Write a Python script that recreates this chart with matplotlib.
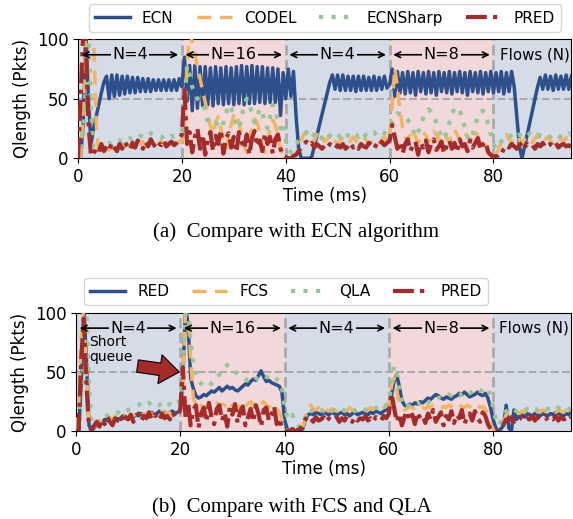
import numpy as np
import matplotlib
matplotlib.use('Agg')
import matplotlib.pyplot as plt

# time axis, one sample every 0.5 ms
t = np.arange(0, 95.25, 0.5)

# ---- (a) ECN comparison ----
ecn = [0, 0, 30, 110, 50, 12, 25, 35, 45, 55, 64, 69, 50, 70, 52, 70, 53, 69, 54, 69,
       55, 68, 55, 68, 56, 67, 56, 67, 56, 66, 57, 66, 57, 66, 57, 66, 57, 66, 57, 67,
       60, 85, 48, 78, 40, 78, 42, 77, 44, 77, 45, 76, 44, 77, 46, 76, 45, 77, 46, 76,
       45, 77, 46, 78, 45, 77, 46, 78, 46, 77, 47, 77, 46, 76, 47, 76, 47, 75, 36, 72,
       50, 75, 52, 73, 35, 8, 0, 0, 0, 0, 1, 10, 19, 28, 37, 46, 55, 64, 70, 58,
       70, 57, 70, 57, 69, 57, 69, 56, 69, 57, 69, 57, 68, 57, 69, 57, 68, 58, 69, 59,
       62, 75, 52, 73, 55, 72, 54, 73, 55, 72, 53, 73, 56, 72, 54, 73, 55, 72, 53, 73,
       56, 72, 55, 73, 54, 72, 56, 73, 55, 72, 53, 73, 56, 72, 55, 73, 54, 72, 56, 73,
       55, 72, 56, 73, 54, 72, 56, 73, 60, 35, 10, 0, 10, 20, 30, 40, 50, 60, 68, 58,
       70, 58, 69, 57, 70, 58, 69, 58, 70, 58, 69]
codel = [0, 0, 40, 105, 110, 110, 105, 30, 3, 5, 6, 8, 7, 9, 8, 10, 9, 11, 10, 12,
         11, 12, 10, 13, 12, 14, 11, 13, 12, 14, 13, 12, 14, 13, 12, 14, 13, 15, 12, 14,
         15, 30, 80, 105, 98, 88, 77, 67, 57, 47, 37, 27, 20, 30, 35, 25, 15, 8, 18, 28,
         36, 38, 30, 20, 10, 5, 15, 25, 33, 30, 22, 12, 5, 15, 25, 32, 28, 18, 8, 3,
         2, 0, 0, 1, 3, 8, 15, 20, 22, 18, 12, 15, 20, 23, 18, 14, 16, 20, 18, 14,
         12, 15, 17, 14, 12, 15, 18, 15, 13, 16, 18, 15, 12, 14, 17, 15, 13, 16, 18, 15,
         16, 45, 76, 60, 40, 26, 18, 14, 20, 24, 18, 13, 16, 22, 19, 14, 17, 23, 20, 15,
         18, 22, 17, 14, 19, 24, 20, 15, 17, 22, 18, 14, 19, 23, 18, 12, 16, 10, 5, 1,
         0, 2, 8, 14, 18, 20, 16, 13, 17, 19, 15, 12, 16, 18, 14, 13, 17, 19, 15, 13,
         16, 18, 14, 13, 17, 19, 15, 14, 17, 18, 15]
ecnsharp = [0, 0, 20, 60, 110, 40, 8, 6, 8, 10, 12, 11, 13, 12, 14, 13, 15, 14, 16, 15,
            17, 16, 18, 17, 19, 18, 20, 22, 21, 20, 19, 18, 17, 19, 18, 17, 19, 18, 19, 20,
            22, 45, 78, 70, 60, 55, 50, 48, 47, 40, 30, 22, 25, 30, 28, 25, 30, 38, 45, 42,
            35, 28, 25, 35, 45, 50, 45, 38, 30, 35, 42, 38, 30, 25, 35, 45, 40, 32, 25, 30,
            15, 8, 5, 8, 12, 15, 18, 20, 22, 19, 17, 20, 22, 18, 17, 20, 22, 19, 18, 21,
            20, 18, 21, 22, 19, 18, 21, 20, 18, 22, 21, 19, 18, 21, 22, 19, 20, 22, 21, 24,
            26, 30, 36, 38, 37, 35, 34, 32, 30, 24, 18, 22, 28, 34, 38, 41, 39, 35, 30, 24,
            18, 16, 22, 30, 37, 42, 43, 40, 34, 26, 18, 15, 20, 28, 35, 39, 40, 36, 28, 20,
            12, 8, 10, 14, 17, 19, 20, 18, 16, 19, 20, 18, 17, 19, 21, 19, 18, 20, 19, 18,
            20, 19, 18, 20, 21, 19, 18, 20, 19, 21, 20]
pred_a = [0, 50, 105, 100, 30, 2, 4, 8, 5, 12, 6, 10, 7, 13, 9, 6, 12, 8, 14, 10,
          7, 13, 9, 15, 11, 8, 14, 10, 16, 12, 9, 13, 11, 15, 10, 12, 14, 11, 13, 16,
          20, 58, 12, 22, 5, 18, 25, 8, 20, 3, 16, 22, 6, 19, 12, 24, 4, 17, 21, 9,
          18, 5, 22, 14, 8, 20, 3, 17, 23, 10, 15, 6, 21, 12, 18, 4, 16, 20, 8, 2,
          1, 0, 0, 2, 3, 6, 9, 12, 14, 11, 13, 9, 12, 10, 8, 11, 9, 12, 10, 8,
          11, 9, 12, 8, 10, 13, 9, 11, 8, 12, 10, 9, 13, 11, 8, 12, 10, 14, 11, 13,
          15, 28, 18, 8, 14, 4, 12, 16, 6, 11, 14, 3, 13, 9, 15, 5, 12, 16, 7, 10,
          14, 4, 11, 15, 8, 13, 5, 16, 10, 12, 6, 15, 9, 13, 17, 7, 12, 14, 5, 3,
          1, 2, 0, 3, 8, 11, 9, 12, 10, 8, 11, 13, 9, 12, 10, 11, 8, 12, 10, 13,
          9, 11, 12, 10, 13, 9, 11, 12, 10, 11, 9]

# ---- (b) FCS / QLA comparison ----
red = [0, 0, 40, 105, 60, 5, 0, 3, 6, 8, 7, 10, 9, 11, 8, 12, 10, 11, 13, 12,
       11, 13, 12, 14, 13, 15, 14, 13, 15, 16, 14, 15, 17, 15, 16, 14, 16, 17, 15, 16,
       18, 45, 105, 90, 45, 36, 30, 28, 29, 31, 30, 32, 34, 33, 35, 37, 34, 36, 38, 36,
       37, 35, 34, 36, 38, 40, 39, 42, 44, 43, 47, 51, 46, 42, 43, 41, 40, 39, 38, 33,
       10, 2, 0, 0, 0, 1, 0, 2, 10, 14, 15, 14, 16, 15, 14, 16, 15, 14, 16, 15,
       14, 15, 16, 14, 15, 13, 15, 16, 14, 15, 16, 15, 14, 16, 15, 17, 16, 15, 17, 18,
       20, 30, 42, 48, 38, 26, 22, 21, 23, 22, 24, 23, 25, 24, 26, 28, 27, 29, 31, 30,
       28, 27, 29, 28, 27, 29, 30, 32, 31, 33, 31, 29, 30, 31, 33, 31, 30, 32, 28, 20,
       10, 3, 0, 2, 5, 22, 3, 0, 18, 10, 13, 14, 12, 15, 14, 13, 15, 14, 13, 15,
       14, 13, 15, 14, 16, 15, 14, 13, 15, 14, 16]
fcs = [0, 20, 80, 105, 50, 5, 2, 4, 7, 9, 8, 11, 10, 12, 9, 13, 11, 12, 14, 13,
       12, 14, 13, 15, 14, 13, 15, 14, 16, 15, 14, 16, 15, 17, 14, 16, 15, 17, 16, 15,
       17, 40, 100, 100, 60, 28, 22, 19, 22, 20, 21, 23, 20, 22, 24, 21, 23, 22, 20, 24,
       21, 23, 20, 22, 24, 21, 23, 25, 22, 24, 21, 23, 25, 22, 20, 23, 21, 19, 16, 10,
       4, 0, 0, 1, 0, 2, 0, 3, 12, 20, 22, 19, 18, 20, 17, 19, 18, 17, 19, 18,
       17, 18, 19, 17, 18, 20, 18, 17, 19, 18, 17, 19, 18, 20, 19, 18, 17, 19, 20, 21,
       22, 38, 45, 35, 24, 20, 18, 19, 21, 20, 18, 19, 21, 20, 19, 21, 20, 22, 21, 20,
       19, 21, 20, 22, 21, 19, 20, 22, 21, 20, 22, 21, 19, 21, 22, 20, 21, 19, 14, 6,
       2, 0, 1, 3, 8, 14, 16, 15, 17, 16, 15, 17, 16, 18, 17, 16, 15, 17, 16, 18,
       17, 16, 18, 17, 16, 18, 17, 16, 18, 17, 16]
qla = [0, 0, 30, 80, 105, 40, 5, 6, 8, 10, 11, 12, 13, 14, 13, 15, 16, 15, 17, 16,
       18, 19, 20, 21, 22, 24, 25, 23, 24, 22, 21, 23, 22, 24, 21, 22, 23, 21, 22, 24,
       26, 50, 100, 105, 75, 58, 48, 42, 40, 38, 39, 41, 40, 43, 45, 48, 50, 53, 56, 55,
       52, 50, 49, 47, 45, 44, 43, 44, 42, 44, 46, 45, 47, 46, 45, 47, 46, 44, 42, 37,
       20, 12, 10, 14, 8, 5, 3, 6, 12, 18, 17, 18, 17, 19, 18, 17, 19, 18, 17, 18,
       17, 18, 19, 17, 18, 19, 18, 17, 19, 18, 19, 18, 17, 19, 18, 20, 19, 18, 20, 22,
       25, 40, 55, 50, 35, 24, 20, 21, 22, 21, 23, 24, 23, 25, 26, 24, 26, 27, 26, 28,
       29, 28, 30, 31, 30, 32, 31, 30, 32, 34, 33, 32, 34, 35, 36, 34, 35, 37, 36, 30,
       20, 10, 5, 8, 14, 17, 18, 16, 18, 17, 19, 18, 17, 19, 18, 20, 19, 18, 20, 19,
       18, 19, 20, 19, 18, 20, 19, 18, 20, 19, 18]
pred_b = [0, 0, 60, 95, 40, 3, 2, 5, 8, 4, 10, 6, 12, 8, 5, 11, 9, 13, 7, 12,
          10, 14, 8, 12, 15, 9, 13, 11, 16, 10, 14, 12, 9, 15, 11, 13, 10, 16, 12, 14,
          18, 54, 12, 24, 5, 18, 22, 3, 15, 20, 8, 24, 12, 6, 19, 22, 9, 16, 4, 20,
          14, 23, 7, 17, 21, 5, 12, 19, 8, 22, 15, 4, 18, 20, 9, 14, 21, 6, 11, 3,
          1, 0, 0, 2, 0, 1, 2, 6, 10, 13, 11, 8, 12, 9, 10, 12, 8, 11, 9, 10,
          12, 8, 11, 9, 13, 10, 8, 12, 9, 11, 10, 13, 9, 11, 8, 12, 10, 9, 13, 11,
          15, 32, 20, 8, 15, 5, 12, 17, 9, 14, 6, 16, 11, 13, 7, 15, 10, 18, 8, 12,
          16, 5, 13, 10, 17, 7, 14, 11, 18, 6, 12, 15, 9, 17, 11, 8, 16, 13, 6, 2,
          0, 1, 0, 3, 6, 10, 9, 12, 8, 11, 10, 12, 9, 11, 10, 13, 9, 12, 10, 11,
          12, 9, 11, 10, 13, 9, 12, 10, 11, 9, 12]

# flow phases
phase_edges = [0, 20, 40, 60, 80, 95]
phase_labels = ['N=4', 'N=16', 'N=4', 'N=8']

BLUE = '#2d4f8b'
ORANGE = '#f4b45e'
GREEN = '#94c794'
RED = '#a52b2b'
BG_BLUE = '#d5dce8'
BG_PINK = '#f0d8db'


def draw_panel(ax, series, names, legend_loc, legend_anchor):
    for i in range(len(phase_edges) - 1):
        c = BG_BLUE if i % 2 == 0 else BG_PINK
        ax.axvspan(phase_edges[i], phase_edges[i + 1], color=c, lw=0, zorder=0)
    for x in phase_edges[1:-1]:
        ax.axvline(x, color='#aaaaaa', ls='--', lw=2, zorder=1)
    ax.axhline(50, color='#aaaaaa', ls='--', lw=1.5, zorder=1)

    styles = [dict(color=BLUE, ls='-', lw=2.5),
              dict(color=ORANGE, ls=(0, (4, 2.5)), lw=2.5),
              dict(color=GREEN, ls=(0, (1, 2)), lw=3),
              dict(color=RED, ls=(0, (5, 1.5, 1, 1.5)), lw=3)]
    for y, name, st in zip(series, names, styles):
        ax.plot(t, y, label=name, zorder=3, **st)

    # phase arrows
    for i, lab in enumerate(phase_labels):
        a, b = phase_edges[i], phase_edges[i + 1]
        c = BG_BLUE if i % 2 == 0 else BG_PINK
        ax.annotate('', xy=(a + 0.7, 87), xytext=(b - 0.7, 87),
                    arrowprops=dict(arrowstyle='<->', color='black', lw=1.2,
                                    shrinkA=0, shrinkB=0), zorder=5)
        ax.text((a + b) / 2, 87, lab, ha='center', va='center', fontsize=11.5, zorder=6,
                bbox=dict(facecolor=c, edgecolor='none', pad=1.0))
    ax.text(81.2, 87, 'Flows (N)', ha='left', va='center', fontsize=10.8, zorder=6)

    ax.set_xlim(0, 95)
    ax.set_ylim(0, 100)
    ax.set_xticks([0, 20, 40, 60, 80])
    ax.set_yticks([0, 50, 100])
    ax.tick_params(labelsize=12)
    ax.set_xlabel('Time (ms)', fontsize=12, labelpad=1)
    ax.set_ylabel('Qlength (Pkts)', fontsize=12)
    ax.legend(loc=legend_loc, bbox_to_anchor=legend_anchor, ncol=4, fontsize=11,
              handlelength=2.3, columnspacing=1.5, borderaxespad=0.5)


fig = plt.figure(figsize=(5.73, 5.19), dpi=100)
ax1 = fig.add_axes([0.1361, 0.695, 0.861, 0.2293])
ax2 = fig.add_axes([0.1326, 0.169, 0.8645, 0.2285])

draw_panel(ax1, [ecn, codel, ecnsharp, pred_a], ['ECN', 'CODEL', 'ECNSharp', 'PRED'],
           'lower center', (0.5, 1.0))
draw_panel(ax2, [red, fcs, qla, pred_b], ['RED', 'FCS', 'QLA', 'PRED'],
           'lower left', (0.0, 1.0))

ax2.text(2.6, 69, 'Short\nqueue', fontsize=10, ha='left', va='center', zorder=6,
         linespacing=1.1)
ax2.annotate('', xy=(19.8, 50), xytext=(11.8, 55),
             arrowprops=dict(arrowstyle='simple,tail_width=0.45,head_width=1.05,head_length=0.7',
                             fc=RED, ec='black', lw=0.8, mutation_scale=20,
                             shrinkA=0, shrinkB=0), zorder=7)

fig.text(0.516, 0.5535, '(a)  Compare with ECN algorithm', ha='center', va='center',
         fontsize=15, family='Liberation Serif')
fig.text(0.510, 0.0237, '(b)  Compare with FCS and QLA', ha='center', va='center',
         fontsize=15, family='Liberation Serif')

fig.savefig('out.png', dpi=100)
